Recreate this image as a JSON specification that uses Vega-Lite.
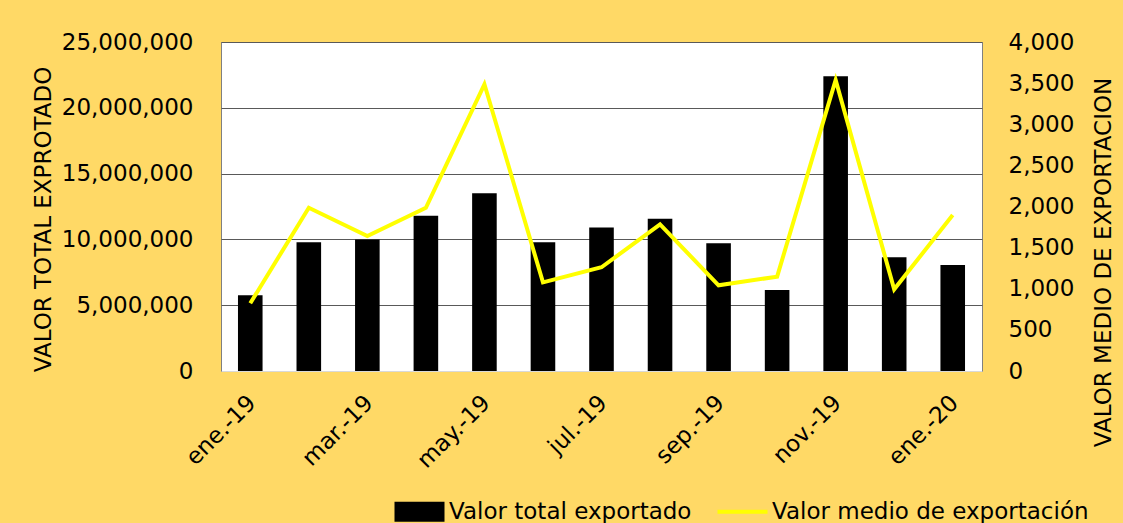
{
  "$schema": "https://vega.github.io/schema/vega-lite/v6.json",
  "width": 761,
  "height": 329,
  "autosize": "none",
  "padding": {"left": 221, "top": 42, "right": 141, "bottom": 152},
  "background": "#FFD966",
  "config": {
    "font": "DejaVu Sans",
    "view": {"fill": "white", "stroke": "#808080", "strokeWidth": 1},
    "axis": {"labelFont": "DejaVu Sans", "titleFont": "DejaVu Sans", "labelFontSize": 23, "titleFontSize": 23, "labelColor": "black", "titleColor": "black", "titleFontWeight": "normal"}
  },
  "data": {"values": [
    {"mes": "ene.-19", "total": 5750000, "medio": 823},
    {"mes": "feb.-19", "total": 9780000, "medio": 1985},
    {"mes": "mar.-19", "total": 10000000, "medio": 1641},
    {"mes": "abr.-19", "total": 11800000, "medio": 1985},
    {"mes": "may.-19", "total": 13500000, "medio": 3486},
    {"mes": "jun.-19", "total": 9780000, "medio": 1078},
    {"mes": "jul.-19", "total": 10900000, "medio": 1261},
    {"mes": "ago.-19", "total": 11570000, "medio": 1783},
    {"mes": "sep.-19", "total": 9700000, "medio": 1042},
    {"mes": "oct.-19", "total": 6150000, "medio": 1147},
    {"mes": "nov.-19", "total": 22400000, "medio": 3538},
    {"mes": "dic.-19", "total": 8640000, "medio": 993},
    {"mes": "ene.-20", "total": 8050000, "medio": 1897}
  ]},
  "encoding": {
    "x": {
      "field": "mes", "type": "ordinal", "sort": null,
      "scale": {"paddingInner": 0.58, "paddingOuter": 0.29},
      "axis": {
        "values": ["ene.-19", "mar.-19", "may.-19", "jul.-19", "sep.-19", "nov.-19", "ene.-20"],
        "labelAngle": -45, "labelAlign": "right", "labelBaseline": "middle",
        "labelPadding": 28, "labelOffset": 2, "ticks": false,
        "domainColor": "#d9d9d9", "title": null, "grid": false
      }
    }
  },
  "layer": [
    {
      "mark": {"type": "bar"},
      "encoding": {
        "y": {
          "field": "total", "type": "quantitative",
          "scale": {"domain": [0, 25000000], "nice": false},
          "axis": {
            "values": [0, 5000000, 10000000, 15000000, 20000000, 25000000],
            "format": ",.0f", "title": "VALOR TOTAL EXPROTADO",
            "grid": true, "gridColor": "#595959", "gridWidth": 1,
            "ticks": false, "domain": false, "labelPadding": 28,
            "titleX": -178, "titleY": 177, "titleAngle": -90,
            "titleBaseline": "middle", "titleAlign": "center"
          }
        },
        "color": {
          "datum": "Valor total exportado",
          "scale": {"domain": ["Valor total exportado", "Valor medio de exportación"], "range": ["black", "#FFFF00"]},
          "legend": {
            "orient": "none", "legendX": 187, "legendY": 458, "direction": "horizontal",
            "title": null, "labelFontSize": 23, "labelFont": "DejaVu Sans", "labelColor": "black",
            "symbolSize": 2500, "labelOffset": 18, "columnPadding": 17, "labelLimit": 500,
            "symbolType": "M-1,-0.4H1V0.4H-1Z",
            "encode": {"symbols": {"update": {
              "shape": {"signal": "datum.value === 'Valor total exportado' ? 'M-1,-0.4H1V0.4H-1Z' : 'M-1,0H1'"},
              "fill": {"signal": "datum.value === 'Valor total exportado' ? 'black' : 'transparent'"},
              "stroke": {"signal": "datum.value === 'Valor total exportado' ? 'black' : '#FFFF00'"},
              "strokeWidth": {"signal": "datum.value === 'Valor total exportado' ? 0 : 4"},
              "opacity": {"value": 1}
            }}}
          }
        }
      }
    },
    {
      "mark": {"type": "line", "strokeWidth": 4},
      "encoding": {
        "y": {
          "field": "medio", "type": "quantitative",
          "scale": {"domain": [0, 4000], "nice": false},
          "axis": {
            "orient": "right",
            "values": [0, 500, 1000, 1500, 2000, 2500, 3000, 3500, 4000],
            "format": ",.0f", "title": "VALOR MEDIO DE EXPORTACION",
            "grid": false, "ticks": false, "domain": false, "labelPadding": 26,
            "titleX": 121, "titleY": 220, "titleAngle": -90,
            "titleBaseline": "middle", "titleAlign": "center"
          }
        },
        "color": {"datum": "Valor medio de exportación"}
      }
    }
  ],
  "resolve": {"scale": {"y": "independent"}}
}
